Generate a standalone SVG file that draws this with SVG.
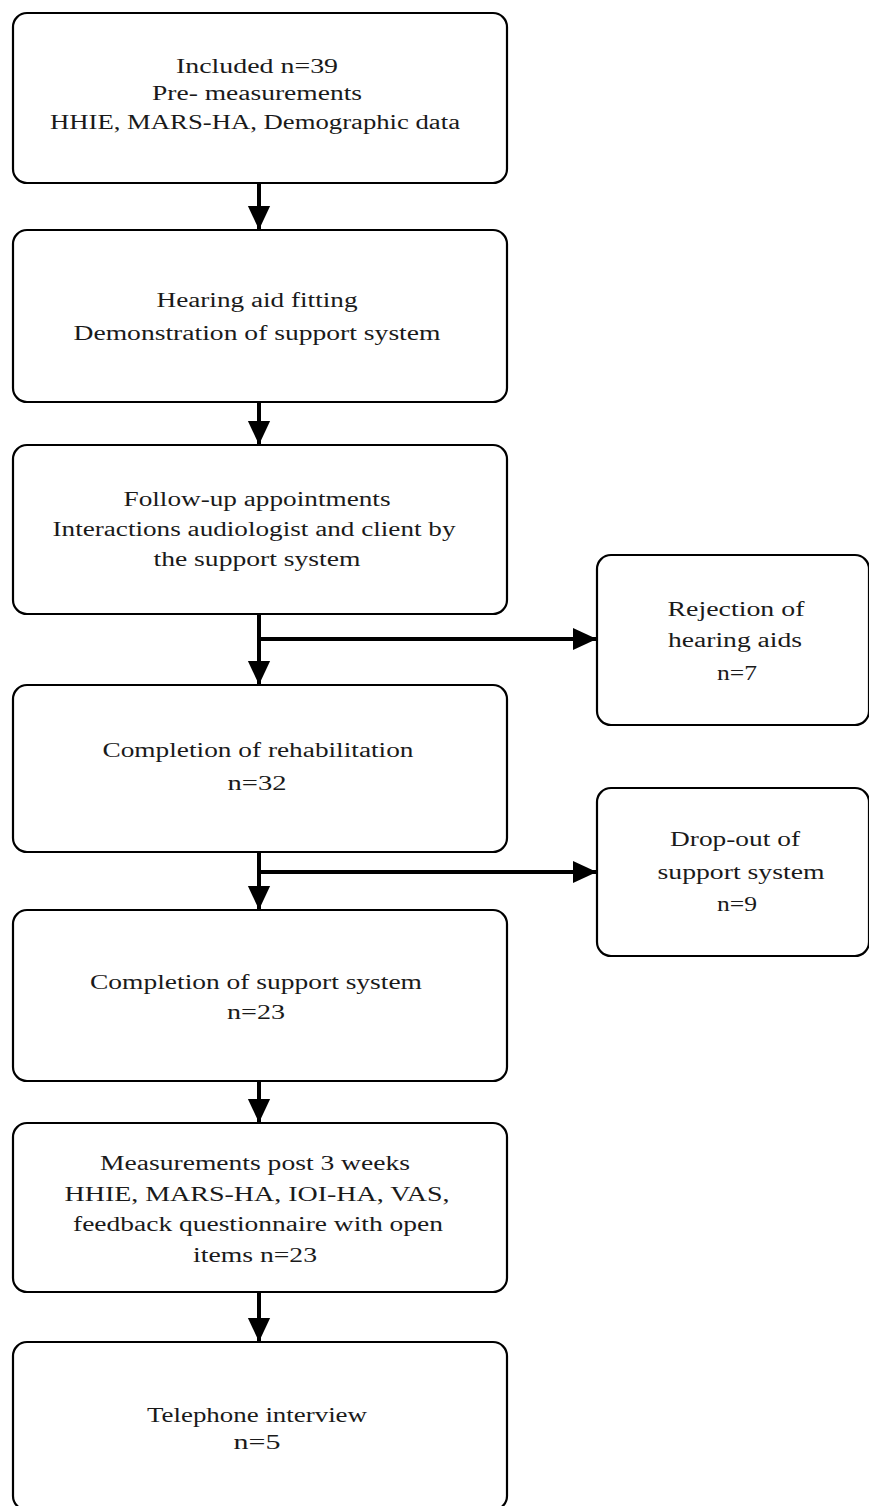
<svg xmlns="http://www.w3.org/2000/svg" width="869" height="1506" viewBox="0 0 869 1506">
<style>
.box{fill:#fff;stroke:#000;stroke-width:2.2}
.t{font-family:"Liberation Serif","Times New Roman",serif;font-size:20px;fill:#1a1a1a;text-anchor:middle}
.ln{stroke:#000;stroke-width:4;fill:none}
</style>
<defs>
<marker id="ah" markerWidth="6" markerHeight="6" refX="5.8" refY="3" orient="auto" markerUnits="strokeWidth">
<path d="M0,0.2 L6,3 L0,5.8 Z" fill="#000"/>
</marker>
</defs>
<rect width="869" height="1506" fill="#fff"/>
<g id="connectors">
<line class="ln" x1="259" y1="183" x2="259" y2="229" marker-end="url(#ah)"/>
<line class="ln" x1="259" y1="402" x2="259" y2="444" marker-end="url(#ah)"/>
<line class="ln" x1="259" y1="614" x2="259" y2="684" marker-end="url(#ah)"/>
<line class="ln" x1="257" y1="639" x2="596" y2="639" marker-end="url(#ah)"/>
<line class="ln" x1="259" y1="852" x2="259" y2="909" marker-end="url(#ah)"/>
<line class="ln" x1="257" y1="872" x2="596" y2="872" marker-end="url(#ah)"/>
<line class="ln" x1="259" y1="1081" x2="259" y2="1122" marker-end="url(#ah)"/>
<line class="ln" x1="259" y1="1292" x2="259" y2="1341" marker-end="url(#ah)"/>
</g>
<g id="n1">
<rect class="box" x="13" y="13" width="494" height="170" rx="14"/>
<text class="t" x="257" y="73" textLength="162" lengthAdjust="spacingAndGlyphs">Included n=39</text>
<text class="t" x="257" y="100" textLength="210" lengthAdjust="spacingAndGlyphs">Pre- measurements</text>
<text class="t" x="255" y="129" textLength="410" lengthAdjust="spacingAndGlyphs">HHIE, MARS-HA, Demographic data</text>
</g>
<g id="n2">
<rect class="box" x="13" y="230" width="494" height="172" rx="14"/>
<text class="t" x="257" y="307" textLength="201" lengthAdjust="spacingAndGlyphs">Hearing aid fitting</text>
<text class="t" x="257" y="340" textLength="367" lengthAdjust="spacingAndGlyphs">Demonstration of support system</text>
</g>
<g id="n3">
<rect class="box" x="13" y="445" width="494" height="169" rx="14"/>
<text class="t" x="257" y="506" textLength="267" lengthAdjust="spacingAndGlyphs">Follow-up appointments</text>
<text class="t" x="254" y="536" textLength="403" lengthAdjust="spacingAndGlyphs">Interactions audiologist and client by</text>
<text class="t" x="257" y="566" textLength="207" lengthAdjust="spacingAndGlyphs">the support system</text>
</g>
<g id="n4">
<rect class="box" x="13" y="685" width="494" height="167" rx="14"/>
<text class="t" x="258" y="757" textLength="311" lengthAdjust="spacingAndGlyphs">Completion of rehabilitation</text>
<text class="t" x="257" y="790" textLength="59" lengthAdjust="spacingAndGlyphs">n=32</text>
</g>
<g id="n5">
<rect class="box" x="13" y="910" width="494" height="171" rx="14"/>
<text class="t" x="256" y="989" textLength="332" lengthAdjust="spacingAndGlyphs">Completion of support system</text>
<text class="t" x="256" y="1019" textLength="58" lengthAdjust="spacingAndGlyphs">n=23</text>
</g>
<g id="n6">
<rect class="box" x="13" y="1123" width="494" height="169" rx="14"/>
<text class="t" x="255" y="1170" textLength="310" lengthAdjust="spacingAndGlyphs">Measurements post 3 weeks</text>
<text class="t" x="257" y="1201" textLength="385" lengthAdjust="spacingAndGlyphs">HHIE, MARS-HA, IOI-HA, VAS,</text>
<text class="t" x="258" y="1231" textLength="370" lengthAdjust="spacingAndGlyphs">feedback questionnaire with open</text>
<text class="t" x="255" y="1262" textLength="124" lengthAdjust="spacingAndGlyphs">items n=23</text>
</g>
<g id="n7">
<rect class="box" x="13" y="1342" width="494" height="168" rx="14"/>
<text class="t" x="257" y="1422" textLength="220" lengthAdjust="spacingAndGlyphs">Telephone interview</text>
<text class="t" x="257" y="1449" textLength="47" lengthAdjust="spacingAndGlyphs">n=5</text>
</g>
<g id="r1">
<rect class="box" x="597" y="555" width="272" height="170" rx="14"/>
<text class="t" x="736" y="616" textLength="137" lengthAdjust="spacingAndGlyphs">Rejection of</text>
<text class="t" x="735" y="647" textLength="134" lengthAdjust="spacingAndGlyphs">hearing aids</text>
<text class="t" x="737" y="680" textLength="40" lengthAdjust="spacingAndGlyphs">n=7</text>
</g>
<g id="r2">
<rect class="box" x="597" y="788" width="272" height="168" rx="14"/>
<text class="t" x="735" y="846" textLength="130" lengthAdjust="spacingAndGlyphs">Drop-out of</text>
<text class="t" x="741" y="879" textLength="167" lengthAdjust="spacingAndGlyphs">support system</text>
<text class="t" x="737" y="911" textLength="40" lengthAdjust="spacingAndGlyphs">n=9</text>
</g>
</svg>
